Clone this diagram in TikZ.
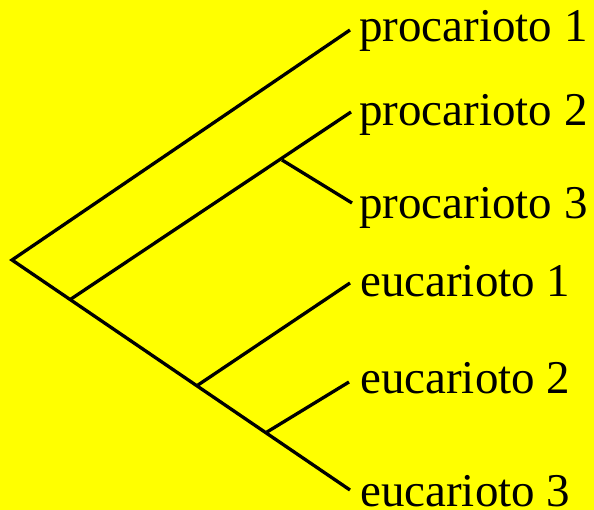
\documentclass[tikz,border=0pt]{standalone}
\usepackage{fontspec}
\setmainfont{Liberation Serif}
\definecolor{bgyellow}{RGB}{255,255,0}
\begin{document}
\begin{tikzpicture}[x=1pt,y=-1pt,
  branch/.style={draw=black,line width=3.3pt,line cap=butt},
  leaflabel/.style={anchor=base west,inner sep=0pt,font=\fontsize{47}{56}\selectfont}]
\fill[bgyellow] (0,0) rectangle (594,510);
\useasboundingbox (0,0) rectangle (594,510);
% internal nodes
\coordinate (root) at (12,260);
\coordinate (n1) at (71,299);
\coordinate (n2) at (198,385);
\coordinate (n3) at (267,432);
\coordinate (p23) at (282,160);
% leaf tips
\coordinate (t1) at (350,30);
\coordinate (t2) at (351,112);
\coordinate (t3) at (352,203);
\coordinate (t4) at (350,283);
\coordinate (t5) at (349,382);
\coordinate (t6) at (350,490);
% labels
\node[leaflabel] (l1) at (359,42) {procarioto 1};
\node[leaflabel] (l2) at (359,126) {procarioto 2};
\node[leaflabel] (l3) at (359,219) {procarioto 3};
\node[leaflabel] (l4) at (360,297) {eucarioto 1};
\node[leaflabel] (l5) at (360,393) {eucarioto 2};
\node[leaflabel] (l6) at (360,506) {eucarioto 3};
% branches
\draw[branch] (t1) -- (root) -- (t6);
\draw[branch] (n1) -- (t2);
\draw[branch] (p23) -- (t3);
\draw[branch] (n2) -- (t4);
\draw[branch] (n3) -- (t5);
\end{tikzpicture}
\end{document}
